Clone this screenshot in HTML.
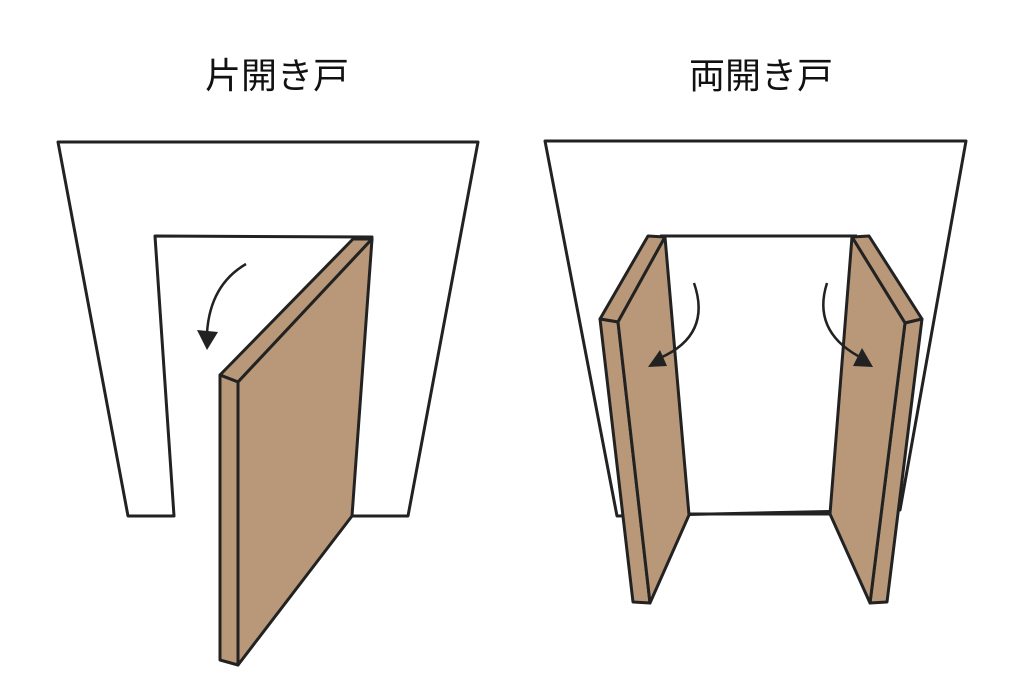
<!DOCTYPE html>
<html><head><meta charset="utf-8"><style>
html,body{margin:0;padding:0;background:#fff;width:1024px;height:694px;overflow:hidden}
</style></head><body>
<svg width="1024" height="694" viewBox="0 0 1024 694" xmlns="http://www.w3.org/2000/svg">
<defs></defs>
<g font-family="Liberation Sans, Noto Sans CJK JP, sans-serif" font-size="36" fill="#111" text-anchor="middle">
<text x="277" y="88">片開き戸</text>
<text x="761" y="88">両開き戸</text>
</g>
<g stroke="#222" stroke-width="3" stroke-linejoin="round" fill="none">
<!-- left frame -->
<polygon points="58,142 478,142 408,516 350,516 372,237 155,236 174,516 128,516" fill="#fff"/>
<!-- left door -->
<polygon points="220,375 353,239 372,239 238,382" fill="#b89878"/>
<polygon points="220,375 238,382 238,665 220,660" fill="#b89878"/>
<polygon points="238,382 372,239 352,516 238,665" fill="#b89878"/>
<path d="M246,264 Q210,285 207,333" stroke-width="2.5"/>
<polygon points="197,330 218,332 207,350" fill="#222" stroke="none"/>
<!-- right frame -->
<polygon points="545,141 966,141 900,510 617,516" fill="#fff"/>
<line x1="660" y1="236" x2="857" y2="236"/>
<line x1="689" y1="514" x2="830" y2="514"/>
<!-- left door of double -->
<polygon points="648,236 665,237 618,322 600,319" fill="#b89878"/>
<polygon points="600,319 618,322 650,603 633,602" fill="#b89878"/>
<polygon points="665,237 689,515 650,603 618,322" fill="#b89878"/>
<!-- right door of double -->
<polygon points="869,236 852,237 905,323 922,319" fill="#b89878"/>
<polygon points="905,323 922,319 887,602 870,603" fill="#b89878"/>
<polygon points="852,237 905,323 870,603 830,514" fill="#b89878"/>
<path d="M694,283 Q712,335 660,358" stroke-width="2.5"/>
<polygon points="648,367 667,366 660,350" fill="#222" stroke="none"/>
<path d="M827,283 Q812,330 858,356" stroke-width="2.5"/>
<polygon points="853,366 873,367 862,348" fill="#222" stroke="none"/>
</g>
</svg>
</body></html>
